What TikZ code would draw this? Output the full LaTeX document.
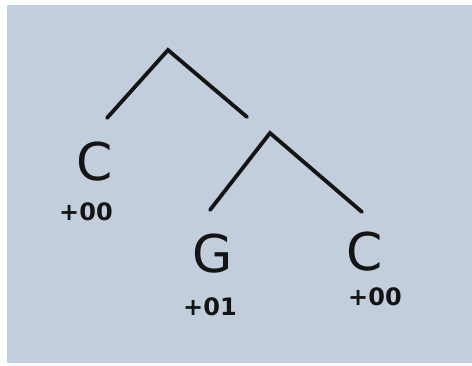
\documentclass[tikz,border=0pt]{standalone}
\usepackage{fontspec}
\setmainfont{DejaVu Sans}
\definecolor{paper}{HTML}{C2CEDB}
\definecolor{ink}{HTML}{141414}
\begin{document}
\begin{tikzpicture}[x=1pt,y=-1pt,
  branch/.style={draw=ink,line width=3.8pt,line cap=round,line join=miter},
  leaf/.style={text=ink,font=\fontsize{52}{52}\selectfont,inner sep=0pt},
  score/.style={text=ink,font=\bfseries\fontsize{24}{24}\selectfont,inner sep=0pt}]
\useasboundingbox (0,0) rectangle (472,365);
\fill[white] (0,0) rectangle (472,365);
\fill[paper] (7,5) rectangle (472,363);
% tree
\coordinate (root) at (168,50);
\coordinate (rootL) at (107,118);
\coordinate (rootR) at (247,117);
\coordinate (inner) at (270,133);
\coordinate (innerL) at (210,210);
\coordinate (innerR) at (362,212);
\draw[branch] (rootL) -- (root) -- (rootR);
\draw[branch] (innerL) -- (inner) -- (innerR);
% labels
\node[leaf] (c1) at (95,162) {C};
\node[score] (s1) at (86,212) {+00};
\node[leaf] (g) at (213,254) {G};
\node[score] (s2) at (210,307) {+01};
\node[leaf] (c2) at (365,252) {C};
\node[score] (s3) at (375,297) {+00};
\end{tikzpicture}
\end{document}
